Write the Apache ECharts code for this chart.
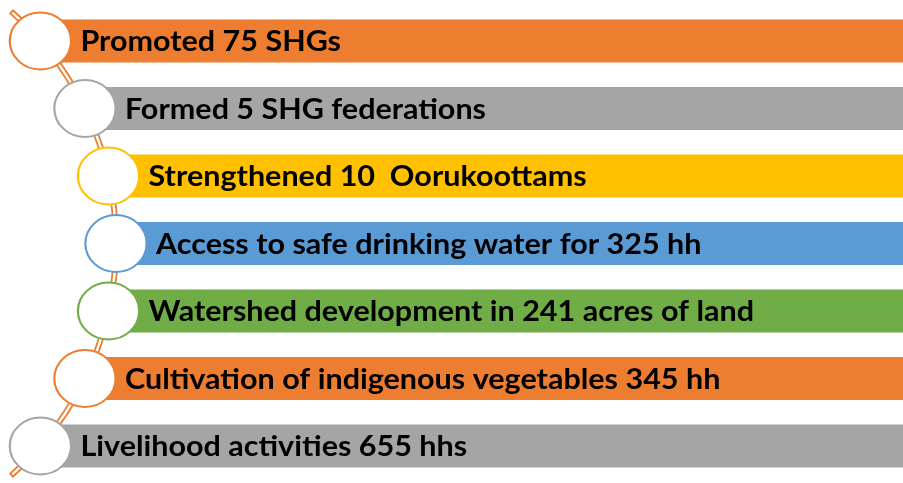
<!DOCTYPE html>
<html>
<head>
<meta charset="utf-8">
<title>Vertical curved list</title>
<script src="https://cdn.jsdelivr.net/npm/echarts@6/dist/echarts.min.js"></script>
<style>
  html, body { margin: 0; padding: 0; background: #fff; }
  #main { width: 903px; height: 483px; }
</style>
</head>
<body>
<div id="main"></div>
<script>
// list items, top to bottom
const labels = [
  'Promoted 75 SHGs',
  'Formed 5 SHG federations',
  'Strengthened 10  Oorukoottams',
  'Access to safe drinking water for 325 hh',
  'Watershed development in 241 acres of land',
  'Cultivation of indigenous vegetables 345 hh',
  'Livelihood activities 655 hhs'
];
const palette = ['#ED7D31', '#A5A5A5', '#FFC000', '#5B9BD5', '#70AD47', '#ED7D31', '#A5A5A5'];

// arc that the bullets sit on (pixel layout)
const arcR = 309;
const arcPeakX = 116;
const circleR = 28.5;
const barH = 43;
const stretch = 1.075; // the slide is a bit wider than tall
const textStretch = 1.09;

const chart = echarts.init(document.getElementById('main'));

// x of the curve at a given pixel y
function curveX(api, y) {
  const mid = api.coord([0, 3])[1];
  const dy = y - mid;
  return api.coord([arcPeakX, 3])[0] - arcR + Math.sqrt(arcR * arcR - dy * dy);
}

const option = {
  animation: false,
  grid: { left: 0, right: 0, top: 7.25, bottom: 3.25 },
  xAxis: { type: 'value', min: 0, max: 903, show: false },
  yAxis: { type: 'category', data: labels, inverse: true, show: false },
  series: [
    {
      // connector line
      type: 'custom',
      z: 1,
      data: [[0, 3]],
      encode: { x: 0, y: 1 },
      renderItem: function (params, api) {
        const mid = api.coord([0, 3]);
        const cx = api.coord([arcPeakX, 3])[0] - arcR;
        const a = 0.85;
        return {
          type: 'group',
          children: [
            {
              type: 'arc',
              shape: { cx: cx, cy: mid[1], r: arcR, startAngle: -a, endAngle: a },
              style: { stroke: '#ED7D31', lineWidth: 6, fill: null }
            },
            {
              type: 'arc',
              shape: { cx: cx, cy: mid[1], r: arcR, startAngle: -a + 0.006, endAngle: a - 0.006 },
              style: { stroke: '#fff', lineWidth: 2.4, fill: null }
            }
          ]
        };
      }
    },
    {
      type: 'custom',
      z: 2,
      data: labels.map(function (l, i) { return [0, i]; }),
      encode: { x: 0, y: 1 },
      renderItem: function (params, api) {
        const idx = api.value(1);
        const y = api.coord([0, idx])[1];
        const x = curveX(api, y);
        const right = api.coord([903, idx])[0];
        const color = palette[idx];
        return {
          type: 'group',
          children: [
            {
              type: 'rect',
              shape: { x: x, y: y - barH / 2, width: right - x, height: barH },
              style: { fill: color }
            },
            {
              type: 'circle',
              x: x,
              y: y,
              scaleX: stretch,
              shape: { cx: 0, cy: 0, r: circleR },
              style: { fill: '#fff', stroke: color, lineWidth: 2 }
            },
            {
              type: 'text',
              x: x + 40,
              y: y + 1,
              scaleX: textStretch,
              style: {
                x: 0,
                y: 0,
                text: labels[idx],
                fill: '#000',
                font: 'bold 28px Lato',
                verticalAlign: 'middle',
                align: 'left'
              }
            }
          ]
        };
      }
    }
  ]
};

chart.setOption(option);
</script>
</body>
</html>
